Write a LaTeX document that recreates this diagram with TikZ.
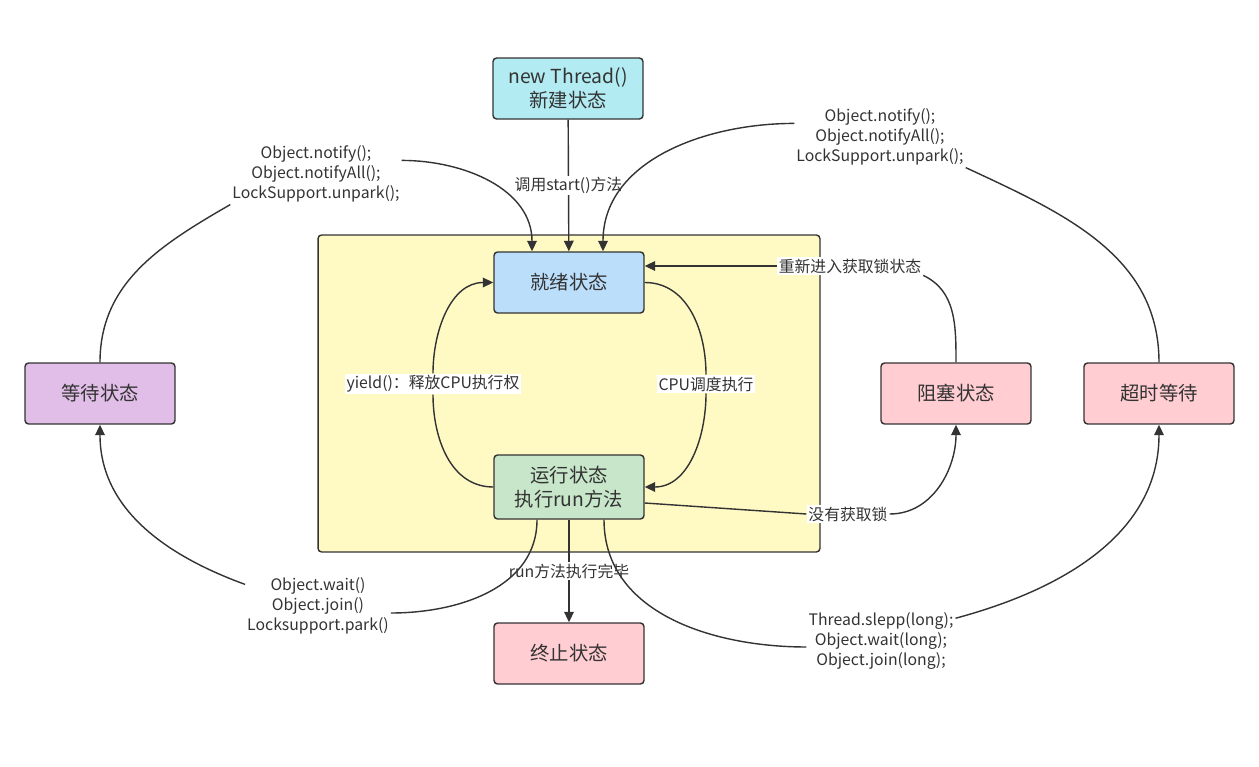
\documentclass[tikz,border=0pt]{standalone}
\usepackage{fontspec}
\setmainfont{Noto Sans CJK SC}
\usepackage{xcolor}
\usetikzlibrary{arrows.meta, positioning, calc}

\definecolor{newc}{HTML}{B2EBF2}
\definecolor{readyc}{HTML}{BBDEFB}
\definecolor{runc}{HTML}{C8E6C9}
\definecolor{endc}{HTML}{FFCDD2}
\definecolor{waitc}{HTML}{E1BEE7}
\definecolor{corec}{HTML}{FFF9C4}
\definecolor{linec}{HTML}{333333}

\begin{document}
\begin{tikzpicture}[x=0.02cm, y=-0.02cm,
  state/.style={rectangle, draw=linec, line width=0.8pt, rounded corners=2pt, align=center, font=\fontsize{11}{14}\selectfont, text=linec, minimum width=3cm, minimum height=1.22cm},
  lbl/.style={align=center, font=\fontsize{9}{11.5}\selectfont, text=linec, inner sep=1pt},
  link/.style={draw=linec, line width=0.8pt},
  flow/.style={link, -{Triangle[length=6pt,width=5.5pt]}}]
  \useasboundingbox (0,0) rectangle (1259,767);
  \node[rectangle, draw=linec, fill=corec, line width=0.8pt, rounded corners=2pt, minimum width=10.04cm, minimum height=6.34cm] (core) at (569,393.5) {};

  % states
  \node[state, fill=newc] (new) at (568,88.5) {new Thread()\\新建状态};
  \node[state, fill=readyc] (ready) at (569,282.5) {就绪状态};
  \node[state, fill=runc, minimum height=1.28cm] (run) at (569,487) {运行状态\\执行run方法};
  \node[state, fill=endc] (end) at (569,653.5) {终止状态};
  \node[state, fill=waitc] (wait) at (100,393.5) {等待状态};
  \node[state, fill=endc] (block) at (956,393.5) {阻塞状态};
  \node[state, fill=endc] (timed) at (1159,393.5) {超时等待};

  % labels
  \node[lbl] (nl) at (316,174) {Object.notify();\\Object.notifyAll();\\LockSupport.unpark();};
  \node[lbl] (nr) at (880,137) {Object.notify();\\Object.notifyAll();\\LockSupport.unpark();};
  \node[lbl, fill=white] (rl) at (850,266) {重新进入获取锁状态};
  \node[lbl, fill=white] (cl) at (706,384) {CPU调度执行};
  \node[lbl, fill=white] (yl) at (433,384) {yield()：释放CPU执行权};
  \node[lbl, fill=white] (dl) at (848,514) {没有获取锁};
  \node[lbl] (wl) at (318,606) {Object.wait()\\Object.join()\\Locksupport.park()};
  \node[lbl] (tl) at (881,641) {Thread.slepp(long);\\Object.wait(long);\\Object.join(long);};

  % transitions
  \draw[flow] (new) -- node[lbl, fill=white] (sl) {调用start()方法} (ready);
  \draw[link] (wait.north) to[out=90,in=210] (nl.south west);
  \draw[flow] ($(nl.north east)+(0,17)$) to[out=0,in=90] ($(ready.north)+(-37,0)$);
  \draw[link] (timed.north) to[out=90,in=-25] (nr.south east);
  \draw[flow] ($(nr.north west)+(0,17)$) to[out=180,in=90] ($(ready.north)+(34,0)$);
  \draw[link] (block.north) to[out=90,in=-25] (rl.south east);
  \draw[flow] (rl.west) -- ($(ready.east)+(0,-16.5)$);
  \draw[link] ($(run.east)+(0,16)$) -- (dl.west);
  \draw[flow] (dl.east) to[out=0,in=-90] (block.south);
  \draw[flow] (ready.east) to[out=0,in=90] (cl) to[out=-90,in=0] (run.east);
  \draw[flow] (run.west) to[out=180,in=-90] (yl) to[out=90,in=180] (ready.west);
  \draw[flow] (run.south) -- node[lbl, fill=white] (fl) {run方法执行完毕} (end.north);
  \draw[link] ($(run.south)+(-32,0)$) to[out=-90,in=0] ($(wl.east)+(0,7)$);
  \draw[flow] ($(wl.north west)+(0,9)$) to[out=160,in=-90] (wait.south);
  \draw[link] ($(run.south)+(35,0)$) to[out=-90,in=180] ($(tl.west)+(0,6)$);
  \draw[flow] ($(tl.north east)+(0,8)$) to[out=15,in=-90] (timed.south);
\end{tikzpicture}
\end{document}
